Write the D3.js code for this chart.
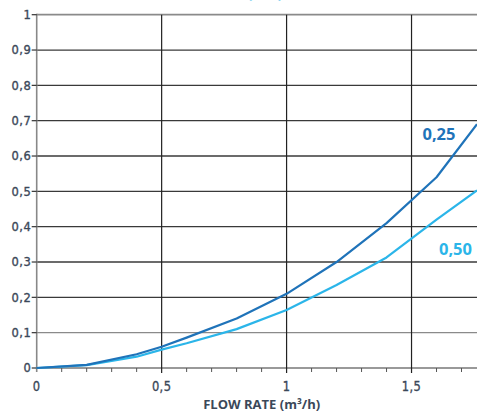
<!DOCTYPE html>
<html><head><meta charset="utf-8">
<script src="https://cdn.jsdelivr.net/npm/d3@7"></script>
<style>html,body{margin:0;padding:0;background:#fff;overflow:hidden}</style>
</head><body>
<svg id="c" width="477" height="412"></svg>
<script>
const flowRates = [0, 0.2, 0.4, 0.5, 0.6, 0.8, 1.0, 1.2, 1.4, 1.6, 1.762];
const series025 = [0, 0.009, 0.039, 0.06, 0.086, 0.14, 0.21, 0.30, 0.41, 0.54, 0.69];
const series050 = [0, 0.008, 0.032, 0.052, 0.07, 0.11, 0.164, 0.235, 0.313, 0.42, 0.503];
const seriesNames = ["0,25", "0,50"];
const xTicks = [0, 0.5, 1, 1.5];
const xMinorTicks = [0.1,0.2,0.3,0.4,0.6,0.7,0.8,0.9,1.1,1.2,1.3,1.4,1.6,1.7];
const yTicks = [0, 0.1, 0.2, 0.3, 0.4, 0.5, 0.6, 0.7, 0.8, 0.9, 1];
const xTitle = "FLOW RATE (m³/h)";
const topTitle = "(bar)";

const fmt = v => String(v).replace(".", ",");
const svg = d3.select("#c");
const x = d3.scaleLinear().domain([0, 1.762]).range([36.7, 477]);
const y = d3.scaleLinear().domain([0, 1]).range([368, 14.7]);
const dark = "#1f73b9", light = "#2bb5e9", txt = "#3b4859";

// top title fragment (cut off at the top edge, as in the reference)
svg.append("text").attr("x", 265).attr("y", -2).attr("text-anchor", "middle")
  .attr("font-family", "Open Sans").attr("font-weight", 700).attr("font-size", 15)
  .attr("fill", light).text(topTitle);

// horizontal grid
svg.append("g").selectAll("line").data(yTicks).join("line")
  .attr("x1", x(0)).attr("x2", 477)
  .attr("y1", d => y(d)).attr("y2", d => y(d))
  .attr("stroke", d => (d === 1 || d === 0.1) ? "#8a8a8a" : (d === 0 ? "#777" : "#3a3a3a"))
  .attr("stroke-width", d => d === 1 ? 1.8 : 1.3);

// vertical grid
svg.append("g").selectAll("line").data(xTicks.filter(d => d > 0)).join("line")
  .attr("x1", d => x(d)).attr("x2", d => x(d))
  .attr("y1", y(1)).attr("y2", y(0) + 5)
  .attr("stroke", "#222").attr("stroke-width", 1.2);

// minor x ticks
svg.append("g").selectAll("line").data(xMinorTicks).join("line")
  .attr("x1", d => x(d)).attr("x2", d => x(d))
  .attr("y1", y(0)).attr("y2", y(0) + 4)
  .attr("stroke", "#555").attr("stroke-width", 1);

// y axis line
svg.append("line").attr("x1", x(0)).attr("x2", x(0)).attr("y1", y(1) - 1).attr("y2", y(0) + 4)
  .attr("stroke", "#888").attr("stroke-width", 1.6);
// y ticks
svg.append("g").selectAll("line").data(yTicks).join("line")
  .attr("x1", x(0) - 5).attr("x2", x(0))
  .attr("y1", d => y(d)).attr("y2", d => y(d))
  .attr("stroke", "#333").attr("stroke-width", 1.2);

// y tick labels
svg.append("g").selectAll("text").data(yTicks).join("text")
  .attr("x", 31.5).attr("y", d => y(d) + 4.3).attr("text-anchor", "end")
  .attr("font-family", "DejaVu Sans").attr("font-size", 11.5)
  .attr("letter-spacing", 0.6)
  .attr("fill", txt).attr("stroke", txt).attr("stroke-width", 0.35)
  .text(d => fmt(d));

// x tick labels (slightly taller glyphs)
svg.append("g").selectAll("text").data(xTicks).join("text")
  .attr("transform", d => `translate(${x(d)},390.7) scale(1,1.2)`)
  .attr("text-anchor", "middle")
  .attr("font-family", "DejaVu Sans").attr("font-size", 11.5)
  .attr("letter-spacing", 0.4)
  .attr("fill", txt).attr("stroke", txt).attr("stroke-width", 0.3)
  .text(d => fmt(d));

// x title
svg.append("text").attr("x", 261.7).attr("y", 408.5).attr("text-anchor", "middle")
  .attr("font-family", "Open Sans").attr("font-weight", 700).attr("font-size", 13)
  .attr("fill", txt).text(xTitle);

// lines
const line = d3.line().x(d => x(d[0])).y(d => y(d[1]));
[[series050, light], [series025, dark]].forEach(([s, c]) => {
  svg.append("path").datum(flowRates.map((f, i) => [f, s[i]]))
    .attr("d", line).attr("fill", "none").attr("stroke", c)
    .attr("stroke-width", 2.2).attr("stroke-linejoin", "round");
});

// series labels
svg.append("text").attr("x", 455.5).attr("y", 139.5).attr("text-anchor", "end")
  .attr("font-family", "Open Sans").attr("font-weight", 700).attr("font-size", 16.5)
  .attr("fill", dark).text(seriesNames[0]);
svg.append("text").attr("x", 472).attr("y", 255).attr("text-anchor", "end")
  .attr("font-family", "Open Sans").attr("font-weight", 700).attr("font-size", 16.5)
  .attr("fill", light).text(seriesNames[1]);
</script>
</body></html>
